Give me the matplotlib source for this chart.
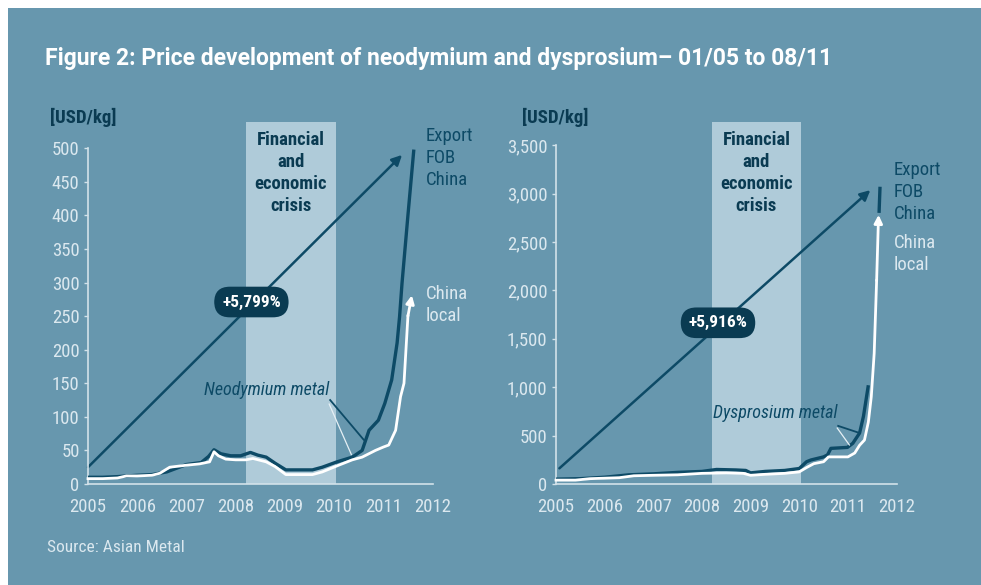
import numpy as np
import matplotlib
matplotlib.use("Agg")
import matplotlib.pyplot as plt
from matplotlib.patches import Rectangle
from matplotlib.ticker import FuncFormatter

plt.rcParams['font.family'] = ['Roboto Condensed', 'DejaVu Sans']

BG = '#6797ae'
BAND = '#afcbd9'
DARK = '#0d4a66'
BOX = '#0a3b52'
LIGHT = '#dbe8ef'
AXIS = '#d2e2ea'

# ---- Neodymium metal [USD/kg] ----
nd_export_t = [2005.0, 2005.3, 2005.6, 2006.0, 2006.3, 2006.6, 2007.0, 2007.3, 2007.45,
               2007.56, 2007.7, 2007.9, 2008.1, 2008.3, 2008.45, 2008.62, 2008.8, 2009.02,
               2009.3, 2009.56, 2009.76, 2010.06, 2010.37, 2010.57, 2010.71, 2010.9,
               2011.03, 2011.17, 2011.28, 2011.33, 2011.38, 2011.5, 2011.62]
nd_export = [10, 10, 11, 13, 14, 18, 29, 32, 41,
             51, 45, 42, 42, 47, 43, 40, 31, 21,
             21, 21, 25, 33, 40, 50, 80, 95,
             120, 155, 210, 249, 299, 400, 498]
nd_local_t = [2005.0, 2005.3, 2005.6, 2005.78, 2006.0, 2006.3, 2006.46, 2006.66, 2007.0,
              2007.27, 2007.47, 2007.56, 2007.65, 2007.8, 2008.0, 2008.21, 2008.35, 2008.62,
              2008.8, 2009.02, 2009.3, 2009.56, 2009.76, 2010.06, 2010.37, 2010.57, 2010.84,
              2011.0, 2011.11, 2011.25, 2011.35, 2011.42, 2011.5, 2011.58]
nd_local = [8, 8, 9, 12, 12, 13, 16, 25, 28,
            30, 33, 48, 42, 37, 36, 36, 38, 33,
            26, 14, 14, 14, 18, 27, 36, 40, 50,
            55, 58, 80, 130, 150, 250, 281]

# ---- Dysprosium metal [USD/kg] ----
dy_export_t = [2005.0, 2005.5, 2006.0, 2006.5, 2007.0, 2007.5, 2008.0, 2008.3, 2008.7,
               2008.9, 2009.0, 2009.3, 2009.7, 2010.0, 2010.15, 2010.24, 2010.5, 2010.58,
               2010.65, 2010.99, 2011.1, 2011.24, 2011.32, 2011.42, 2011.5,
               2011.64, 2011.66]
dy_export = [50, 55, 70, 95, 105, 120, 130, 150, 145,
             140, 115, 130, 140, 160, 230, 248, 280, 300,
             368, 378, 420, 526, 700, 1020, np.nan,
             2800, 3070]
dy_local_t = [2005.0, 2005.4, 2005.7, 2006.0, 2006.3, 2006.6, 2007.0, 2007.5, 2008.0,
              2008.5, 2008.85, 2009.0, 2009.3, 2009.7, 2010.0, 2010.15, 2010.3, 2010.5,
              2010.6, 2010.75, 2011.0, 2011.14, 2011.24, 2011.34, 2011.42, 2011.48,
              2011.54, 2011.59, 2011.63]
dy_local = [40, 40, 55, 60, 65, 85, 90, 95, 110,
            115, 110, 90, 100, 110, 125, 170, 210, 230,
            280, 280, 280, 320, 400, 454, 640, 900,
            1350, 2100, 2780]

crisis = [2008.2, 2010.04]
years = [2005, 2006, 2007, 2008, 2009, 2010, 2011, 2012]
nd_yticks = [0, 50, 100, 150, 200, 250, 300, 350, 400, 450, 500]
dy_yticks = [0, 500, 1000, 1500, 2000, 2500, 3000, 3500]
growth = ['+5,799%', '+5,916%']
metals = ['Neodymium metal', 'Dysprosium metal']

fig = plt.figure(figsize=(9.81, 5.85), dpi=100)
fig.patch.set_facecolor('white')
fig.patches.append(Rectangle((8 / 981, 0), 1, 577 / 585, transform=fig.transFigure,
                             facecolor=BG, edgecolor='none', zorder=-10))

fig.text(45 / 981, 1 - 59 / 585,
         'Figure 2: Price development of neodymium and dysprosium\u2013 01/05 to 08/11',
         color='white', fontsize=16.5, fontweight='bold', va='center', ha='left',
         family=['Roboto', 'DejaVu Sans'])
fig.text(47 / 981, 1 - 548 / 585, 'Source: Asian Metal', color=LIGHT, fontsize=12.5,
         va='center', ha='left')


def draw_panel(ax, ex_t, ex_v, lo_t, lo_v, yticks, ytop, fmt, arrow, box, metal, pointers,
               label_pos):
    ax.set_facecolor('none')
    ax.set_xlim(2005, 2012.05)
    ax.set_ylim(0, ytop)
    ax.add_patch(Rectangle((crisis[0], 0), crisis[1] - crisis[0], ytop * 0.988,
                           facecolor=BAND, edgecolor='none', zorder=0))

    ax.plot(ex_t, ex_v, color=DARK, lw=2.4, zorder=3, solid_capstyle='butt', clip_on=False)
    ax.plot(lo_t[:-1], lo_v[:-1], color='white', lw=2.0, zorder=4, clip_on=False)
    ax.annotate('', xy=(lo_t[-1], lo_v[-1]), xytext=(lo_t[-2], lo_v[-2]), zorder=4,
                arrowprops=dict(arrowstyle='-|>', color='white', lw=2.0,
                                mutation_scale=12, shrinkA=0, shrinkB=0))

    # overall growth arrow
    ax.annotate('', xy=arrow[1], xytext=arrow[0], zorder=2,
                arrowprops=dict(arrowstyle='-|>', color=DARK, lw=1.8,
                                mutation_scale=15, shrinkA=0, shrinkB=0))
    ax.text(box[0], box[1], box[2], ha='center', va='center', color='white',
            fontsize=12.5, fontweight='bold', zorder=6,
            bbox=dict(boxstyle='round,pad=0.45,rounding_size=0.9', fc=BOX, ec='none'))

    mid = (crisis[0] + crisis[1]) / 2
    ax.text(mid, ytop * 0.965, 'Financial\nand\neconomic\ncrisis', ha='center', va='top',
            color=BOX, fontsize=13.5, fontweight='bold', linespacing=1.3, zorder=5)

    ax.text(metal[0], metal[1], metal[2], ha='center', va='center', color=DARK,
            fontsize=13, style='italic', zorder=5)
    (p0, p_dark, p1, p_white) = pointers
    ax.plot([p0[0], p_dark[0]], [p0[1], p_dark[1]], color=DARK, lw=1.3, zorder=5)
    ax.plot([p1[0], p_white[0]], [p1[1], p_white[1]], color='#e6f0f5', lw=0.9, zorder=5)

    ax.text(label_pos[0], label_pos[1], 'Export\nFOB\nChina', ha='left', va='top',
            color=DARK, fontsize=13.5, linespacing=1.3, clip_on=False)
    ax.text(label_pos[0], label_pos[2], 'China\nlocal', ha='left', va='top',
            color=LIGHT, fontsize=13.5, linespacing=1.3, clip_on=False)

    for s in ['top', 'right']:
        ax.spines[s].set_visible(False)
    ax.spines['left'].set_color(AXIS)
    ax.spines['bottom'].set_color(AXIS)
    ax.spines['left'].set_linewidth(1.2)
    ax.spines['bottom'].set_linewidth(1.2)
    ax.spines['left'].set_bounds(0, yticks[-1])
    ax.spines['bottom'].set_bounds(2005, 2012)

    ax.set_xticks(years)
    ax.set_yticks(yticks)
    ax.yaxis.set_major_formatter(FuncFormatter(fmt))
    ax.tick_params(axis='x', length=0, pad=10, labelcolor=LIGHT, labelsize=13.5)
    ax.tick_params(axis='y', length=3, width=1, color=AXIS, pad=3, labelcolor=LIGHT,
                   labelsize=13.5)


ax1 = fig.add_axes([88 / 981, 101 / 585, 347 / 981, 366 / 585])
draw_panel(ax1, nd_export_t, nd_export, nd_local_t, nd_local, nd_yticks, 545,
           lambda v, p: f'{v:.0f}',
           ((2005.0, 25), (2011.38, 490)), (2008.32, 271, growth[0]),
           (2008.62, 140, metals[0]),
           ((2009.92, 125), (2010.6, 66), (2009.9, 119), (2010.35, 44)),
           (2011.86, 532, 297))
fig.text(50 / 981, 1 - 117 / 585, '[USD/kg]', color=BOX, fontsize=13.5, fontweight='bold',
         va='center', ha='left')

ax2 = fig.add_axes([556 / 981, 101 / 585, 343 / 981, 366 / 585])
draw_panel(ax2, dy_export_t, dy_export, dy_local_t, dy_local, dy_yticks, 3780,
           lambda v, p: f'{v:,.0f}',
           ((2005.07, 162), (2011.46, 3035)), (2008.33, 1665, growth[1]),
           (2009.5, 736, metals[1]),
           ((2010.8, 600), (2011.22, 530), (2010.78, 578), (2011.03, 403)),
           (2011.94, 3340, 2580))
fig.text(522 / 981, 1 - 117 / 585, '[USD/kg]', color=BOX, fontsize=13.5, fontweight='bold',
         va='center', ha='left')

fig.savefig('out.png', dpi=100)
